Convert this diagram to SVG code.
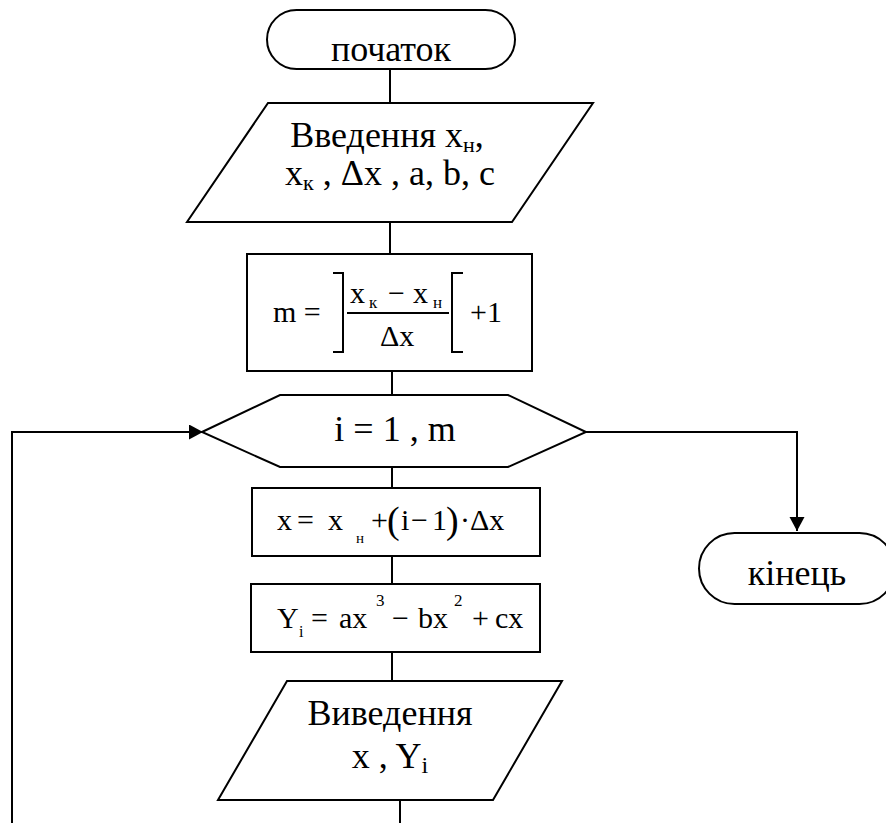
<svg xmlns="http://www.w3.org/2000/svg" width="886" height="823" viewBox="0 0 886 823">
  <style>
    .shape { fill: #ffffff; stroke: #000000; stroke-width: 2; }
    .wire { fill: none; stroke: #000000; stroke-width: 2; }
    .big { font-size: 36px; }
    .eq { font-size: 30px; }
    .sub { font-size: 17px; }
    .mid { text-anchor: middle; }
  </style>
  <defs>
    <marker id="arrow" markerUnits="userSpaceOnUse" markerWidth="15" markerHeight="16" refX="14" refY="7.5" orient="auto">
      <path d="M0,0 L14,7.5 L0,15 Z" fill="#000000"/>
    </marker>
  </defs>

  <!-- connectors -->
  <g id="connectors">
    <line class="wire" x1="390" y1="69" x2="390" y2="103"/>
    <line class="wire" x1="390" y1="222" x2="390" y2="254"/>
    <line class="wire" x1="392" y1="371" x2="392" y2="395"/>
    <line class="wire" x1="392" y1="467" x2="392" y2="488"/>
    <line class="wire" x1="392" y1="556" x2="392" y2="584"/>
    <line class="wire" x1="392" y1="652" x2="392" y2="681"/>
    <!-- loop return to the counter -->
    <path class="wire" d="M400,800 V835 H12 V432 H203" marker-end="url(#arrow)"/>
    <!-- loop exit -->
    <path class="wire" d="M586,432 H797 V531" marker-end="url(#arrow)"/>
  </g>

  <!-- start -->
  <g id="start">
    <rect class="shape" x="267" y="10" width="248" height="59" rx="29.5" ry="29.5"/>
    <text class="big mid" x="391" y="61" font-family="Liberation Serif">початок</text>
  </g>

  <!-- input -->
  <g id="input">
    <polygon class="shape" points="268,103 593,103 512,222 187,222"/>
    <text class="big mid" x="387" y="147" font-family="Liberation Serif">Введення x<tspan font-size="22" dy="5" font-family="Liberation Serif">н</tspan><tspan dy="-5" font-family="Liberation Serif">,</tspan></text>
    <text class="big mid" x="390" y="185" font-family="Liberation Serif">x<tspan font-size="22" dy="5" font-family="Liberation Serif">к</tspan><tspan dy="-5" font-family="Liberation Serif"> , Δx , a, b, c</tspan></text>
  </g>

  <!-- count of steps -->
  <g id="count">
    <rect class="shape" x="247" y="254" width="285" height="117"/>
    <text class="eq" x="273" y="322" font-family="Liberation Serif">m =</text>
    <path class="wire" d="M333,273 H343 V352 H333" stroke-width="1.6"/>
    <text class="eq" x="350" y="303" font-family="Liberation Serif">x</text>
    <text class="sub" x="369" y="308" font-family="Liberation Serif">к</text>
    <text class="eq" x="388" y="303" font-family="Liberation Serif">−</text>
    <text class="eq" x="413" y="303" font-family="Liberation Serif">x</text>
    <text class="sub" x="433" y="308" font-family="Liberation Serif">н</text>
    <line class="wire" x1="347" y1="313" x2="449" y2="313" stroke-width="1.5"/>
    <text class="eq" x="380" y="346" font-family="Liberation Serif">Δx</text>
    <path class="wire" d="M463,273 H452 V352 H463" stroke-width="1.6"/>
    <text class="eq" x="470" y="322" font-family="Liberation Serif">+1</text>
  </g>

  <!-- loop header -->
  <g id="loop">
    <polygon class="shape" points="202,432 280,395 508,395 586,432 508,467 280,467"/>
    <text class="big mid" x="395" y="441" font-family="Liberation Serif">i = 1 , m</text>
  </g>

  <!-- x computation -->
  <g id="calc-x">
    <rect class="shape" x="252" y="488" width="288" height="68"/>
    <text class="eq" x="277" y="530" font-family="Liberation Serif">x</text>
    <text class="eq" x="297" y="530" font-family="Liberation Serif">=</text>
    <text class="eq" x="328" y="530" font-family="Liberation Serif">x</text>
    <text font-size="15" x="356" y="543" font-family="Liberation Serif">н</text>
    <text class="eq" x="371" y="530" font-family="Liberation Serif">+</text>
    <text font-size="38" x="387" y="533" font-family="Liberation Serif">(</text>
    <text class="eq" x="401" y="530" font-family="Liberation Serif">i</text>
    <text class="eq" x="411" y="530" font-family="Liberation Serif">−</text>
    <text class="eq" x="432" y="530" font-family="Liberation Serif">1</text>
    <text font-size="38" x="446" y="533" font-family="Liberation Serif">)</text>
    <text class="eq" x="460" y="530" font-family="Liberation Serif">·</text>
    <text class="eq" x="470" y="530" font-family="Liberation Serif">Δx</text>
  </g>

  <!-- function value -->
  <g id="calc-y">
    <rect class="shape" x="251" y="584" width="289" height="68"/>
    <text class="eq" x="277" y="628" font-family="Liberation Serif">Y</text>
    <text font-size="16" x="299" y="637" font-family="Liberation Serif">i</text>
    <text class="eq" x="311" y="628" font-family="Liberation Serif">=</text>
    <text class="eq" x="339" y="628" font-family="Liberation Serif">ax</text>
    <text font-size="17" x="376" y="606" font-family="Liberation Serif">3</text>
    <text class="eq" x="392" y="628" font-family="Liberation Serif">−</text>
    <text class="eq" x="418" y="628" font-family="Liberation Serif">bx</text>
    <text font-size="17" x="454" y="606" font-family="Liberation Serif">2</text>
    <text class="eq" x="472" y="628" font-family="Liberation Serif">+</text>
    <text class="eq" x="495" y="628" font-family="Liberation Serif">cx</text>
  </g>

  <!-- output -->
  <g id="output">
    <polygon class="shape" points="287,681 562,681 493,800 218,800"/>
    <text class="big mid" x="390" y="725" font-family="Liberation Serif">Виведення</text>
    <text class="big mid" x="390" y="768" font-family="Liberation Serif">x , Y<tspan font-size="24" dy="5" font-family="Liberation Serif">i</tspan></text>
  </g>

  <!-- end -->
  <g id="end">
    <rect class="shape" x="699" y="533" width="196" height="71" rx="35.5" ry="35.5"/>
    <text class="big mid" x="797" y="585" font-family="Liberation Serif">кінець</text>
  </g>
</svg>
